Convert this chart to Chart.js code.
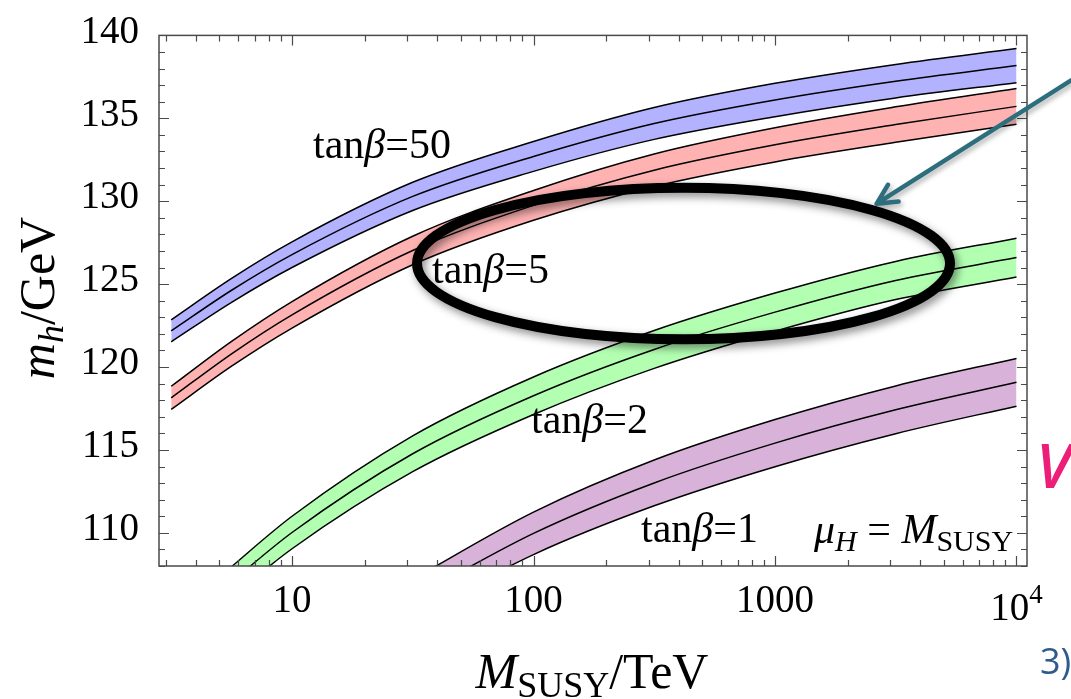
<!DOCTYPE html>
<html>
<head>
<meta charset="utf-8">
<script src="https://cdn.jsdelivr.net/npm/chart.js@4.4.0/dist/chart.umd.min.js"></script>
<style>
  html, body { margin: 0; padding: 0; background: #fff; }
  canvas { display: block; }
</style>
</head>
<body>
<canvas id="higgs" width="1071" height="699"></canvas>
<script>
// M_SUSY in TeV where the bands are sampled
const massTeV = [3.16, 5.62, 10, 31.6, 100, 316, 1000, 3160, 10000];
const massTeVLow = [31.6, 100, 316, 1000, 3160, 10000];

// m_h in GeV: upper edge, central value, lower edge of each band
const tb50Upper = [122.85, 125.35, 127.55, 131.14, 133.6, 135.65, 137.11, 138.25, 139.21];
const tb50Mid   = [122.18, 124.63, 126.78, 130.29, 132.7, 134.69, 136.11, 137.24, 138.18];
const tb50Lower = [121.52, 123.9, 126.0, 129.44, 131.8, 133.73, 135.1, 136.23, 137.15];

const tb5Upper = [118.84, 121.55, 123.95, 127.89, 130.65, 132.85, 134.43, 135.69, 136.8];
const tb5Mid   = [118.14, 120.8, 123.15, 127.03, 129.75, 131.87, 133.4, 134.62, 135.72];
const tb5Lower = [117.44, 120.05, 122.35, 126.17, 128.85, 130.89, 132.37, 133.55, 134.64];

const tb2Upper = [104.8, 107.96, 111.0, 115.85, 119.4, 122.2, 124.46, 126.37, 127.77];
const tb2Mid   = [103.95, 107.04, 110.02, 114.77, 118.27, 121.06, 123.31, 125.22, 126.6];
const tb2Lower = [103.1, 106.12, 109.04, 113.69, 117.14, 119.92, 122.16, 124.07, 125.43];

const tb1Upper = [107.2, 111.25, 114.39, 116.83, 118.86, 120.52];
const tb1Mid   = [106.05, 109.97, 113.01, 115.41, 117.42, 119.08];
const tb1Lower = [104.9, 108.69, 111.63, 113.99, 115.98, 117.64];

// axis ticks
const xMajor = [10, 100, 1000, 10000];
const yMajor = [110, 115, 120, 125, 130, 135, 140];

// highlighted region (ellipse) and the arrow pointing at it, in data units
const ringCenter = { m: 418, mh: 126.24 };
const ringHalf = { decades: 1.1035, mh: 4.57 };
const arrowTip = { m: 2637, mh: 129.85 };
const arrowTail = { m: 16830, mh: 137.29 };

const serif = '"Liberation Serif", "Times New Roman", serif';
const rm = (s) => `${s}px ${serif}`;
const it = (s) => `italic ${s}px ${serif}`;

function pts(xs, ys) {
  return xs.map((v, i) => ({ x: v, y: ys[i] }));
}

function band(xs, up, mid, lo, fillColor) {
  const base = {
    borderColor: "#000",
    borderWidth: 1.5,
    pointRadius: 0,
    cubicInterpolationMode: "monotone",
  };
  return [
    { ...base, data: pts(xs, up), fill: "+2", backgroundColor: fillColor },
    { ...base, data: pts(xs, mid), fill: false },
    { ...base, data: pts(xs, lo), fill: false },
  ];
}

const datasets = [
  ...band(massTeV, tb50Upper, tb50Mid, tb50Lower, "rgb(178,178,255)"),
  ...band(massTeV, tb5Upper, tb5Mid, tb5Lower, "rgb(255,178,178)"),
  ...band(massTeV, tb2Upper, tb2Mid, tb2Lower, "rgb(178,255,178)"),
  ...band(massTeVLow, tb1Upper, tb1Mid, tb1Lower, "rgb(216,178,216)"),
];

// draws a sequence of text pieces with their own fonts and baseline shifts
function textRuns(ctx, parts, x, base, align) {
  let w = 0;
  parts.forEach((p) => {
    ctx.font = p.f;
    p.w = ctx.measureText(p.t).width;
    w += p.w;
  });
  let cx = align === "center" ? x - w / 2 : x;
  parts.forEach((p) => {
    ctx.font = p.f;
    ctx.fillText(p.t, cx, base + (p.dy || 0));
    cx += p.w;
  });
}

const decor = {
  id: "decor",
  afterDatasetsDraw(chart) {
    const { ctx, chartArea: a, scales } = chart;
    const x = scales.x, y = scales.y;
    ctx.save();

    // frame ticks pointing inwards on all four sides
    ctx.strokeStyle = "#4a4a4a";
    ctx.lineWidth = 1.2;
    ctx.beginPath();
    const xTick = (v, len) => {
      const px = Math.round(x.getPixelForValue(v)) + 0.5;
      ctx.moveTo(px, a.bottom); ctx.lineTo(px, a.bottom - len);
      ctx.moveTo(px, a.top); ctx.lineTo(px, a.top + len);
    };
    const yTick = (v, len) => {
      const py = Math.round(y.getPixelForValue(v)) + 0.5;
      ctx.moveTo(a.left, py); ctx.lineTo(a.left + len, py);
      ctx.moveTo(a.right, py); ctx.lineTo(a.right - len, py);
    };
    for (let d = 1; d <= 1000; d *= 10) {
      for (let k = 2; k <= 9; k++) {
        const v = k * d;
        if (v >= x.min && v <= x.max) xTick(v, 6);
      }
    }
    xMajor.forEach((v) => xTick(v, 10));
    for (let v = Math.ceil(y.min); v <= y.max; v++) {
      if (yMajor.indexOf(v) < 0) yTick(v, 6);
    }
    yMajor.forEach((v) => yTick(v, 10));
    ctx.stroke();
    ctx.lineWidth = 1.5;
    ctx.strokeRect(a.left, a.top, a.right - a.left, a.bottom - a.top);

    ctx.fillStyle = "#000";
    ctx.textAlign = "left";
    ctx.textBaseline = "alphabetic";

    // 10^4 tick label
    const px4 = x.getPixelForValue(10000);
    ctx.font = rm(39);
    const w10 = ctx.measureText("10").width;
    ctx.font = rm(27);
    const w4 = ctx.measureText("4").width;
    ctx.font = rm(39);
    ctx.fillText("10", px4 - (w10 + w4) / 2, 620);
    ctx.font = rm(27);
    ctx.fillText("4", px4 - (w10 + w4) / 2 + w10, 603);

    // band labels
    const tanb = (n) => [
      { t: "tan", f: rm(42) },
      { t: "β", f: it(42) },
      { t: "=" + n, f: rm(42) },
    ];
    textRuns(ctx, tanb(50), 313, 158);
    textRuns(ctx, tanb(5), 432, 283);
    textRuns(ctx, tanb(2), 531, 433);
    textRuns(ctx, tanb(1), 641, 542);
    textRuns(ctx, [
      { t: "μ", f: it(42) },
      { t: "H", f: it(30), dy: 8 },
      { t: " = ", f: rm(42) },
      { t: "M", f: it(42) },
      { t: "SUSY", f: rm(30), dy: 8 },
    ], 814, 543);

    // axis titles
    textRuns(ctx, [
      { t: "M", f: it(50) },
      { t: "SUSY", f: rm(36), dy: 9 },
      { t: "/TeV", f: rm(50) },
    ], 592, 688, "center");
    ctx.save();
    ctx.translate(54, 298);
    ctx.rotate(-Math.PI / 2);
    textRuns(ctx, [
      { t: "m", f: it(50) },
      { t: "h", f: it(36), dy: 9 },
      { t: "/GeV", f: rm(50) },
    ], 0, 0, "center");
    ctx.restore();

    // ring around the region near 125 GeV
    const cx = x.getPixelForValue(ringCenter.m);
    const rx = x.getPixelForValue(ringCenter.m * Math.pow(10, ringHalf.decades)) - cx;
    const cy = y.getPixelForValue(ringCenter.mh);
    const ry = y.getPixelForValue(ringCenter.mh - ringHalf.mh) - cy;
    ctx.save();
    ctx.shadowColor = "rgba(0,0,0,0.45)";
    ctx.shadowBlur = 8;
    ctx.shadowOffsetX = 3;
    ctx.shadowOffsetY = 4;
    ctx.strokeStyle = "#000";
    ctx.lineWidth = 10;
    ctx.beginPath();
    ctx.ellipse(cx, cy, rx, ry, 0, 0, Math.PI * 2);
    ctx.stroke();

    // arrow
    const tx = x.getPixelForValue(arrowTip.m), ty = y.getPixelForValue(arrowTip.mh);
    const sx = x.getPixelForValue(arrowTail.m), sy = y.getPixelForValue(arrowTail.mh);
    const ang = Math.atan2(sy - ty, sx - tx);
    const head = 22, spread = 0.47;
    ctx.shadowBlur = 5;
    ctx.shadowOffsetX = 2;
    ctx.shadowOffsetY = 3;
    ctx.shadowColor = "rgba(0,0,0,0.3)";
    ctx.strokeStyle = "#2d6e7d";
    ctx.lineWidth = 4.5;
    ctx.lineCap = "round";
    ctx.lineJoin = "round";
    ctx.beginPath();
    ctx.moveTo(sx, sy);
    ctx.lineTo(tx, ty);
    ctx.moveTo(tx + head * Math.cos(ang - spread), ty + head * Math.sin(ang - spread));
    ctx.lineTo(tx, ty);
    ctx.lineTo(tx + head * Math.cos(ang + spread), ty + head * Math.sin(ang + spread));
    ctx.stroke();
    ctx.restore();

    // slide text peeking in at the right edge
    ctx.fillStyle = "#ec1e78";
    ctx.font = 'italic 600 62px "Open Sans"';
    ctx.fillText("V", 1036, 488);
    ctx.fillStyle = "#2e5a8c";
    ctx.font = '36px "Open Sans"';
    ctx.fillText("3)", 1040, 674);

    ctx.restore();
  },
};

new Chart(document.getElementById("higgs"), {
  type: "line",
  data: { datasets },
  options: {
    animation: false,
    responsive: false,
    layout: { padding: { top: 30, right: 44, left: 0, bottom: 0 } },
    plugins: {
      legend: { display: false },
      tooltip: { enabled: false },
      filler: { drawTime: "beforeDatasetsDraw" },
    },
    scales: {
      x: {
        type: "logarithmic",
        min: 2.813,
        max: 11053,
        grid: { display: false },
        border: { display: false },
        afterBuildTicks: (s) => {
          s.ticks = xMajor.map((v) => ({ value: v }));
        },
        afterFit: (s) => {
          s.height = 133;
        },
        ticks: {
          padding: 4,
          autoSkip: false,
          maxRotation: 0,
          color: "#000",
          font: { family: serif, size: 39 },
          callback: (v) => (v === 10000 ? "" : String(v)),
        },
      },
      y: {
        min: 108,
        max: 140,
        grid: { display: false },
        border: { display: false },
        afterBuildTicks: (s) => {
          s.ticks = yMajor.map((v) => ({ value: v }));
        },
        afterFit: (s) => {
          s.width = 159;
        },
        ticks: {
          padding: 12,
          labelOffset: -3,
          color: "#000",
          font: { family: serif, size: 39 },
        },
      },
    },
  },
  plugins: [decor],
});
</script>
</body>
</html>
